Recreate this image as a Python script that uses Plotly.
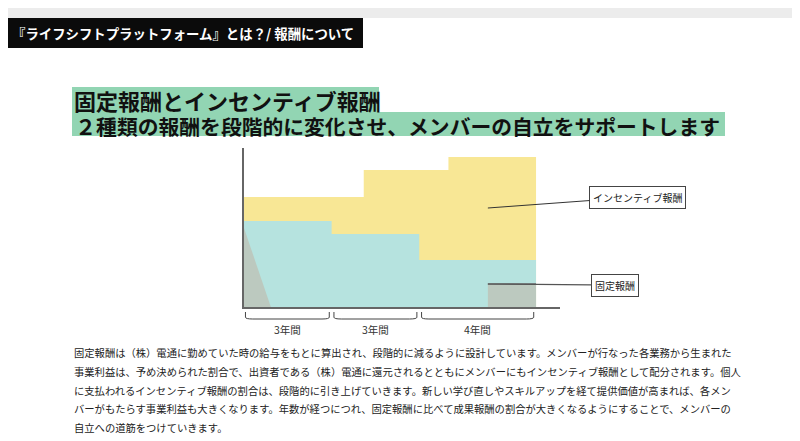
import plotly.graph_objects as go

W, H = 800, 441
JP = "Noto Sans CJK JP"

# data: years on x, relative pay on y
fixed_x = [0, 3, 6, 10]
fixed_y = [86, 73, 47, 47]
total_x = [0, 4.1, 7, 10]
total_y = [110, 137, 150, 150]
taper_x = [0, 0, 0.92, 0]
taper_y = [0, 79, 0, 0]
tail_x = [8.35, 8.35, 10, 10, 8.35]
tail_y = [0, 23, 23, 0, 0]

period_edges = [0, 3, 6, 10]
period_labels = ["3年間", "3年間", "4年間"]

header = "『ライフシフトプラットフォーム』とは？/ 報酬について"
title_lines = ["固定報酬とインセンティブ報酬",
               "２種類の報酬を段階的に変化させ、メンバーの自立をサポートします"]
body_lines = [
    "固定報酬は（株）電通に勤めていた時の給与をもとに算出され、段階的に減るように設計しています。メンバーが行なった各業務から生まれた",
    "事業利益は、予め決められた割合で、出資者である（株）電通に還元されるとともにメンバーにもインセンティブ報酬として配分されます。個人",
    "に支払われるインセンティブ報酬の割合は、段階的に引き上げていきます。新しい学び直しやスキルアップを経て提供価値が高まれば、各メン",
    "バーがもたらす事業利益も大きくなります。年数が経つにつれ、固定報酬に比べて成果報酬の割合が大きくなるようにすることで、メンバーの",
    "自立への道筋をつけていきます。",
]

# page body has an 8px margin, so positions are measured from there
OFF = 8


def px(x):
    return (x - OFF) / W


def py(y):
    return 1 - (y - OFF) / H


fig = go.Figure()

# incentive (drawn first, fixed sits on top of it)
fig.add_trace(go.Scatter(x=total_x, y=total_y, mode="lines", line=dict(shape="hv", width=0),
                         fill="tozeroy", fillcolor="#f8e795", hoverinfo="skip"))
fig.add_trace(go.Scatter(x=fixed_x, y=fixed_y, mode="lines", line=dict(shape="hv", width=0),
                         fill="tozeroy", fillcolor="#b6e3df", hoverinfo="skip"))
# dotted grey parts
fig.add_trace(go.Scatter(x=taper_x, y=taper_y, mode="lines", line=dict(width=0),
                         fill="toself", fillcolor="#bcc9bf", hoverinfo="skip"))
fig.add_trace(go.Scatter(x=tail_x, y=tail_y, mode="lines", line=dict(width=0),
                         fill="toself", fillcolor="#bcc9bf", hoverinfo="skip"))
fig.add_trace(go.Scatter(x=[tail_x[1], tail_x[2]], y=[tail_y[1], tail_y[2]], mode="lines",
                         line=dict(color="#6f6f6f", width=1.5), hoverinfo="skip"))

fig.update_layout(
    width=W, height=H,
    margin=dict(l=0, r=0, t=0, b=0),
    paper_bgcolor="white", plot_bgcolor="white",
    showlegend=False,
    xaxis=dict(domain=[px(244), px(560)], range=[0, 10.82], showgrid=False, zeroline=False,
               showticklabels=False, ticks="", showline=True, linecolor="#666", linewidth=1.5,
               fixedrange=True),
    yaxis=dict(domain=[py(307), py(148)], range=[0, 159], showgrid=False, zeroline=False,
               showticklabels=False, ticks="", showline=True, linecolor="#666", linewidth=1.5,
               fixedrange=True),
    font=dict(family=JP, color="#222"),
)

shapes = []
# top grey band and header block
shapes.append(dict(type="rect", xref="paper", yref="paper", x0=0, x1=1, y0=py(18), y1=py(8),
                   fillcolor="#ececec", line_width=0, layer="below"))
shapes.append(dict(type="rect", xref="paper", yref="paper", x0=0, x1=px(363), y0=py(48), y1=py(18),
                   fillcolor="#0b0b0b", line_width=0, layer="below"))
# green highlights behind title
shapes.append(dict(type="rect", xref="paper", yref="paper", x0=px(72), x1=px(379), y0=py(112), y1=py(87),
                   fillcolor="#92d5b3", line_width=0, layer="below"))
shapes.append(dict(type="rect", xref="paper", yref="paper", x0=px(72), x1=px(725), y0=py(136), y1=py(112),
                   fillcolor="#92d5b3", line_width=0, layer="below"))

# period brackets under the axis
top, bot, r = py(312), py(319), 0.25
for i in range(len(period_labels)):
    a, b = period_edges[i] + 0.08, period_edges[i + 1] - 0.08
    if i == 0:
        a = 0.05
    path = (f"M {a},{top} L {a},{bot + 0.004} Q {a},{bot} {a + r},{bot} "
            f"L {b - r},{bot} Q {b},{bot} {b},{bot + 0.004} L {b},{top}")
    shapes.append(dict(type="path", xref="x", yref="paper", path=path,
                       line=dict(color="#444", width=1)))
fig.update_layout(shapes=shapes)

ann = []
ann.append(dict(text=header, xref="paper", yref="paper", x=px(10), y=py(33), xanchor="left",
                yanchor="middle", showarrow=False,
                font=dict(family=JP, size=13.4, color="white", weight="bold")))
# both title lines in one block so they share one line pitch
title_text = (f"<span style='font-size:22px'>{title_lines[0]}</span><br>"
              f"<span style='font-size:20.8px'>&#8202;{title_lines[1]}</span>")
ann.append(dict(text=title_text, xref="paper", yref="paper", x=px(72), y=py(112),
                xanchor="left", yanchor="middle", align="left", showarrow=False,
                font=dict(family=JP, size=19, color="#111", weight="bold")))
for i, line in enumerate(body_lines):
    ann.append(dict(text=line, xref="paper", yref="paper", x=px(72), y=py(352.5 + i * 18.8),
                    xanchor="left", yanchor="middle", showarrow=False,
                    font=dict(family=JP, size=10.3, color="#222")))
for i, lab in enumerate(period_labels):
    ann.append(dict(text=lab, x=(period_edges[i] + period_edges[i + 1]) / 2, xref="x",
                    yref="paper", y=py(329), yanchor="middle", showarrow=False,
                    font=dict(family=JP, size=10.5, color="#333")))
# callouts
ann.append(dict(text="インセンティブ報酬", x=8.35, y=99, xref="x", yref="y", showarrow=True,
                arrowhead=0, arrowwidth=1, arrowcolor="#333", ax=150, ay=-11,
                bordercolor="#444", borderwidth=1, borderpad=3, bgcolor="white",
                font=dict(family=JP, size=10, color="#222")))
ann.append(dict(text="固定報酬", x=8.35, y=23, xref="x", yref="y", showarrow=True,
                arrowhead=0, arrowwidth=1.2, arrowcolor="#555", ax=127, ay=1,
                bordercolor="#444", borderwidth=1, borderpad=3, bgcolor="white",
                font=dict(family=JP, size=10, color="#222")))
fig.update_layout(annotations=ann)

fig.write_html("out.html")
